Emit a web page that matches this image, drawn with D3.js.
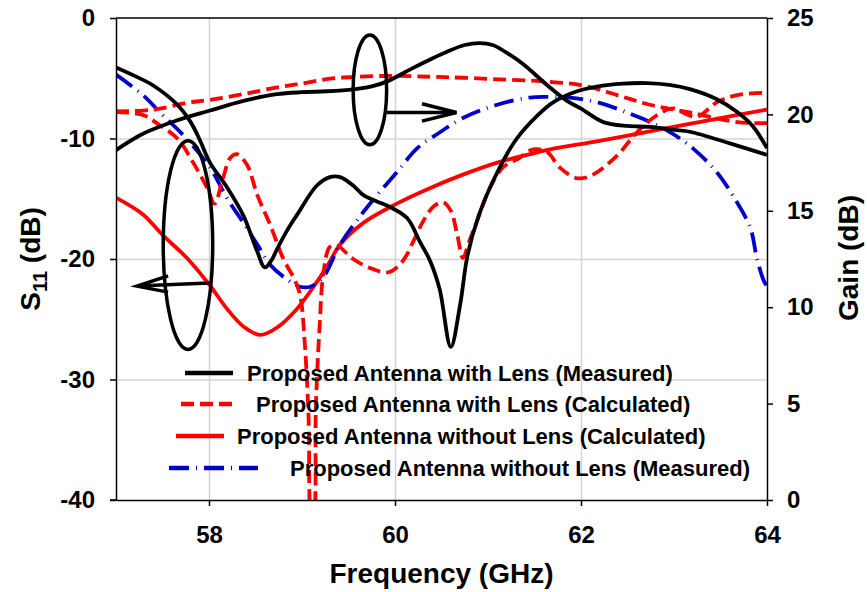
<!DOCTYPE html>
<html>
<head>
<meta charset="utf-8">
<script src="https://cdn.jsdelivr.net/npm/d3@7"></script>
<style>
  body { margin: 0; background: #fff; }
  text { font-family: "Liberation Sans", Arial, sans-serif; font-weight: bold; }
</style>
</head>
<body>
<div id="chart"></div>
<script>
// ---- data: [frequency GHz, value dB] ----
const s11WithLensMeas = [
  [57.0,-4.1],[57.2,-4.8],[57.4,-5.6],[57.66,-7.2],[57.8,-8.6],[57.9,-10.1],[58.01,-12.0],
  [58.19,-14.0],[58.37,-16.4],[58.52,-19.4],[58.6,-20.7],[58.68,-20.0],[58.73,-19.2],
  [58.85,-17.5],[58.95,-16.3],[59.16,-13.9],[59.3,-13.2],[59.41,-13.2],[59.55,-13.9],
  [59.66,-14.7],[59.8,-15.2],[59.95,-15.7],[60.13,-16.6],[60.27,-18.6],[60.38,-20.2],
  [60.48,-22.5],[60.6,-27.3],[60.7,-23.8],[60.78,-19.7],[60.9,-16.4],[61.1,-12.8],
  [61.31,-10.0],[61.53,-8.1],[61.7,-7.0],[61.95,-6.1],[62.17,-5.7],[62.45,-5.45],
  [62.71,-5.4],[62.95,-5.55],[63.17,-5.9],[63.45,-6.7],[63.68,-7.8],[63.85,-9.0],[64.0,-10.8]
];
const gainWithLensMeas = [
  [57.0,18.15],[57.29,19.0],[57.66,19.7],[58.01,20.2],[58.37,20.7],[58.73,21.05],[59.0,21.15],
  [59.27,21.2],[59.55,21.3],[59.75,21.45],[59.91,21.7],[60.19,22.4],[60.4,22.9],[60.56,23.25],
  [60.75,23.6],[60.91,23.7],[61.05,23.6],[61.2,23.2],[61.38,22.6],[61.64,21.5],[61.85,20.7],
  [62.0,20.3],[62.24,19.6],[62.5,19.4],[62.74,19.35],[63.0,19.2],[63.17,19.1],[63.6,18.5],[64.0,17.9]
];
const s11WithLensCalc = [
  [57.0,-7.8],[57.29,-8.05],[57.47,-8.9],[57.66,-10.0],[57.83,-12.0],[57.98,-14.1],[58.06,-15.4],
  [58.15,-13.3],[58.23,-11.6],[58.3,-11.3],[58.41,-12.2],[58.52,-14.7],[58.66,-17.2],[58.8,-20.0],
  [58.92,-21.7],[58.98,-23.0],[59.03,-27.0],[59.07,-33.0],[59.105,-42],[59.12,-42],[59.15,-32],
  [59.19,-25.5],[59.23,-21.2],[59.3,-19.0],[59.38,-18.9],[59.55,-20.0],[59.75,-20.8],[59.93,-21.1],
  [60.08,-20.2],[60.2,-18.5],[60.3,-16.9],[60.42,-15.6],[60.52,-15.3],[60.6,-16.0],[60.67,-18.0],
  [60.73,-19.9],[60.8,-18.5],[60.88,-16.9],[61.02,-14.1],[61.16,-12.4],[61.34,-11.6],[61.45,-11.0],
  [61.55,-10.9],[61.65,-11.2],[61.77,-12.4],[61.96,-13.3],[62.13,-13.0],[62.39,-11.4],[62.6,-9.5],
  [62.82,-8.05],[62.99,-7.5],[63.14,-8.0],[63.25,-8.2],[63.46,-7.0],[63.68,-6.4],[64.0,-6.2]
];
const gainWithLensCalc = [
  [57.0,20.15],[57.29,20.2],[57.47,20.3],[57.76,20.6],[58.01,20.75],[58.37,21.05],[58.73,21.4],
  [59.0,21.6],[59.3,21.85],[59.6,21.95],[60.02,22.0],[60.4,21.95],[60.73,21.9],[61.2,21.8],
  [61.63,21.7],[62.02,21.5],[62.39,21.0],[62.74,20.5],[63.17,20.1],[63.68,19.6],[64.0,19.55]
];
const s11NoLensCalc = [
  [57.0,-14.9],[57.29,-16.3],[57.5,-18.0],[57.76,-19.9],[58.01,-22.2],[58.19,-24.1],[58.37,-25.6],
  [58.55,-26.3],[58.73,-25.7],[58.95,-24.1],[59.16,-21.9],[59.3,-20.2],[59.41,-18.8],[59.66,-17.0],
  [60.02,-15.4],[60.38,-14.1],[60.73,-13.0],[61.1,-12.0],[61.45,-11.3],[61.67,-10.9],[62.2,-10.2],
  [62.74,-9.4],[63.4,-8.45],[64.0,-7.6]
];
const s11NoLensMeas = [
  [57.0,-4.7],[57.29,-6.4],[57.5,-8.05],[57.72,-9.7],[58.01,-12.4],[58.19,-14.9],[58.37,-17.0],
  [58.52,-18.8],[58.66,-20.5],[58.84,-21.7],[58.98,-22.3],[59.09,-22.3],[59.22,-21.6],[59.41,-18.8],
  [59.66,-16.1],[59.84,-14.4],[60.02,-12.8],[60.24,-10.8],[60.48,-9.5],[60.73,-8.3],[61.1,-7.2],
  [61.45,-6.6],[61.67,-6.55],[61.88,-6.6],[62.2,-7.05],[62.56,-8.05],[62.92,-9.3],[63.2,-10.8],
  [63.46,-12.8],[63.63,-14.7],[63.82,-17.4],[63.89,-19.9],[63.96,-21.7],[64.0,-22.3]
];

const xTicks = [58, 60, 62, 64];
const s11Ticks = [0, -10, -20, -30, -40];
const gainTicks = [0, 5, 10, 15, 20, 25];
const legendLabels = [
  "Proposed Antenna with Lens (Measured)",
  "Proposed Antenna with Lens (Calculated)",
  "Proposed Antenna without Lens (Calculated)",
  "Proposed Antenna without Lens (Measured)"
];

// ---- setup ----
const width = 867, height = 592;
const m = { left: 116, right: 767, top: 18, bottom: 500 };

const svg = d3.select('#chart').append('svg')
  .attr('width', width).attr('height', height);

const x = d3.scaleLinear().domain([57, 64]).range([m.left, m.right]);
const yS = d3.scaleLinear().domain([-40, 0]).range([m.bottom, m.top]);
const yG = d3.scaleLinear().domain([0, 25]).range([m.bottom, m.top]);

// grid
svg.append('g')
  .attr('transform', `translate(0,${m.bottom})`)
  .call(d3.axisBottom(x).tickValues([58, 60, 62]).tickSize(-(m.bottom - m.top)).tickFormat(''))
  .call(g => g.select('.domain').remove())
  .selectAll('line').attr('stroke', '#d4d4d4').attr('stroke-width', 1.5);
svg.append('g')
  .attr('transform', `translate(${m.left},0)`)
  .call(d3.axisLeft(yS).tickValues([-10, -20, -30]).tickSize(-(m.right - m.left)).tickFormat(''))
  .call(g => g.select('.domain').remove())
  .selectAll('line').attr('stroke', '#d4d4d4').attr('stroke-width', 1.5);

// top frame line
svg.append('line')
  .attr('x1', m.left).attr('x2', m.right).attr('y1', m.top).attr('y2', m.top)
  .attr('stroke', '#000').attr('stroke-width', 1.5);

// curves
svg.append('clipPath').attr('id', 'clip')
  .append('rect').attr('x', m.left).attr('y', m.top)
  .attr('width', m.right - m.left).attr('height', m.bottom - m.top);

const lineS = d3.line().x(d => x(d[0])).y(d => yS(d[1])).curve(d3.curveCatmullRom.alpha(0.5));
const lineG = d3.line().x(d => x(d[0])).y(d => yG(d[1])).curve(d3.curveCatmullRom.alpha(0.5));

const styles = {
  blackSolid: { stroke: '#000', width: 3.8, dash: null },
  redDash:    { stroke: '#ff0000', width: 3.8, dash: '13,6' },
  redSolid:   { stroke: '#ff0000', width: 3.8, dash: null },
  blueDashDot:{ stroke: '#0000cc', width: 3.8, dash: '20,7,1,7' }
};

const curves = [
  { data: s11NoLensCalc, line: lineS, style: 'redSolid' },
  { data: s11NoLensMeas, line: lineS, style: 'blueDashDot' },
  { data: gainWithLensCalc, line: lineG, style: 'redDash' },
  { data: s11WithLensCalc, line: lineS, style: 'redDash' },
  { data: gainWithLensMeas, line: lineG, style: 'blackSolid' },
  { data: s11WithLensMeas, line: lineS, style: 'blackSolid' }
];

const plot = svg.append('g').attr('clip-path', 'url(#clip)');
curves.forEach(c => {
  const st = styles[c.style];
  plot.append('path')
    .attr('d', c.line(c.data))
    .attr('fill', 'none')
    .attr('stroke', st.stroke)
    .attr('stroke-width', st.width)
    .attr('stroke-dasharray', st.dash);
});

// axes
const fmt = d => String(d);
const axB = svg.append('g').attr('transform', `translate(0,${m.bottom})`)
  .call(d3.axisBottom(x).tickValues(xTicks).tickSize(6).tickSizeOuter(0).tickPadding(20).tickFormat(fmt));
const axL = svg.append('g').attr('transform', `translate(${m.left},0)`)
  .call(d3.axisLeft(yS).tickValues(s11Ticks).tickSize(6).tickSizeOuter(0).tickPadding(15).tickFormat(fmt));
const axR = svg.append('g').attr('transform', `translate(${m.right},0)`)
  .call(d3.axisRight(yG).tickValues(gainTicks).tickSize(6).tickSizeOuter(0).tickPadding(14).tickFormat(fmt));

[axB, axL, axR].forEach(a => {
  a.select('.domain').attr('stroke', '#000').attr('stroke-width', 1.5);
  a.selectAll('.tick line').attr('stroke', '#000').attr('stroke-width', 1.5);
  a.selectAll('.tick text')
    .attr('fill', '#000')
    .style('font-size', '24px')
    .style('font-family', '"Liberation Sans", Arial, sans-serif')
    .style('font-weight', 'bold');
});
// extend x axis line under the left tick like the original
svg.append('line').attr('x1', m.left - 6).attr('x2', m.left)
  .attr('y1', m.bottom).attr('y2', m.bottom).attr('stroke', '#000').attr('stroke-width', 1.5);

// axis titles
svg.append('text')
  .attr('x', (m.left + m.right) / 2).attr('y', 583)
  .attr('text-anchor', 'middle').style('font-size', '28px')
  .text('Frequency (GHz)');

const yt = svg.append('text')
  .attr('transform', 'translate(40,259) rotate(-90)')
  .attr('text-anchor', 'middle').style('font-size', '28px');
yt.append('tspan').text('S');
yt.append('tspan').text('11').style('font-size', '20px').attr('dy', 7);
yt.append('tspan').text(' (dB)').attr('dy', -7);

svg.append('text')
  .attr('transform', 'translate(858,258) rotate(-90)')
  .attr('text-anchor', 'middle').style('font-size', '28px')
  .text('Gain (dB)');

// annotation ellipses + arrows (in data units)
const ann = svg.append('g').attr('fill', 'none').attr('stroke', '#000').attr('stroke-width', 3.5);
// gain marker
ann.append('ellipse')
  .attr('cx', x(59.73)).attr('cy', yG(21.27))
  .attr('rx', x(59.73) - x(59.55)).attr('ry', yG(21.27) - yG(24.12));
ann.append('line')
  .attr('x1', x(59.91)).attr('y1', yG(20.1)).attr('x2', x(60.66)).attr('y2', yG(20.1));
ann.append('polyline')
  .attr('points', [[x(60.29), yG(20.55)], [x(60.66), yG(20.1)], [x(60.29), yG(19.65)]].join(' '));
// s11 marker
ann.append('ellipse')
  .attr('cx', x(57.774)).attr('cy', yS(-18.84))
  .attr('rx', x(58.04) - x(57.774)).attr('ry', yS(-27.5) - yS(-18.84));
ann.append('line')
  .attr('x1', x(58.0)).attr('y1', yS(-22.0)).attr('x2', x(57.226)).attr('y2', yS(-22.25));
ann.append('polyline')
  .attr('points', [[x(57.56), yS(-21.4)], [x(57.226), yS(-22.25)], [x(57.56), yS(-22.75)]].join(' '));

// legend (positions copied from the original layout)
const legendRows = [
  { style: 'blackSolid', x1: 185, x2: 233, tx: 247, y: 373 },
  { style: 'redDash',    x1: 181, x2: 233, tx: 256, y: 404 },
  { style: 'redSolid',   x1: 176, x2: 224, tx: 237, y: 436 },
  { style: 'blueDashDot',x1: 169, x2: 258, tx: 290, y: 468 }
];
const lg = svg.append('g');
legendRows.forEach((r, i) => {
  const st = styles[r.style];
  lg.append('line')
    .attr('x1', r.x1).attr('x2', r.x2).attr('y1', r.y).attr('y2', r.y)
    .attr('stroke', st.stroke).attr('stroke-width', 4.5)
    .attr('stroke-dasharray', st.dash);
  lg.append('text')
    .attr('x', r.tx).attr('y', r.y).attr('dy', '0.35em')
    .style('font-size', '22px')
    .text(legendLabels[i]);
});
</script>
</body>
</html>
